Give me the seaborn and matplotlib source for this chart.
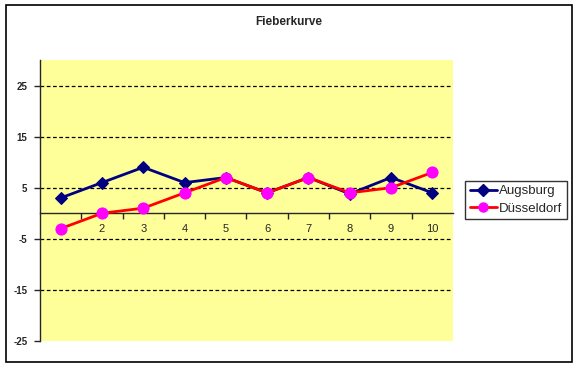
import numpy as np
import pandas as pd
import matplotlib
matplotlib.use('Agg')
import matplotlib.pyplot as plt
from matplotlib.patches import Rectangle
from matplotlib.lines import Line2D
import seaborn as sns

# data
days = [1, 2, 3, 4, 5, 6, 7, 8, 9, 10]
augsburg = [3, 6, 9, 6, 7, 4, 7, 3.8, 7, 4]
duesseldorf = [-3, 0, 1, 4, 7, 4, 7, 4, 5, 8]
y_ticks = [25, 15, 5, -5, -15, -25]

sns.set_style('white')
plt.rcParams['font.family'] = ['Liberation Sans', 'DejaVu Sans']

fig = plt.figure(figsize=(5.78, 3.66), dpi=100)
ax = fig.add_axes([40 / 578, 1 - 341 / 366, 413 / 578, 281 / 366])
ax.set_facecolor('#FFFF99')

# outer chart border
fig.patches.append(Rectangle((6 / 578, 1 - 362 / 366), 566 / 578, 357 / 366,
                             transform=fig.transFigure, fill=False,
                             edgecolor='black', linewidth=1.2))

df_a = pd.DataFrame({'day': days, 'value': augsburg})
df_d = pd.DataFrame({'day': days, 'value': duesseldorf})

sns.lineplot(data=df_a, x='day', y='value', ax=ax, color='#000080',
             marker='D', markersize=6.5, markeredgecolor='#000080',
             linewidth=2, zorder=3)
sns.lineplot(data=df_d, x='day', y='value', ax=ax, color='#FF0000',
             marker='o', markersize=8, markerfacecolor='#FF00FF',
             markeredgecolor='#FF00FF', linewidth=2, zorder=4)

ax.set_xlim(0.5, 10.5)
ax.set_ylim(-25, 30)
ax.set_xlabel('')
ax.set_ylabel('')

# dashed gridlines
for y in [25, 15, 5, -5, -15]:
    ax.axhline(y, color='black', linestyle=(0, (3, 2)), linewidth=0.9, zorder=1)

# spines: left axis and x axis at zero
for s in ['top', 'right']:
    ax.spines[s].set_visible(False)
ax.spines['bottom'].set_position(('data', 0))
ax.spines['bottom'].set_linewidth(1)
ax.spines['left'].set_linewidth(1)

ax.set_yticks(y_ticks)
ax.set_yticklabels([str(v) for v in y_ticks], fontsize=7, fontweight='bold')
ax.tick_params(axis='y', direction='out', length=4, width=1, pad=5, left=True)

ax.set_xticks([d + 0.5 for d in days[:-1]], minor=True)
ax.set_xticks(days)
ax.set_xticklabels([str(d) for d in days], fontsize=8)
ax.tick_params(axis='x', which='major', length=0, pad=8)
ax.tick_params(axis='x', which='minor', direction='out', length=4, width=1, bottom=True)

fig.text(289 / 578, 1 - 22 / 366, 'Fieberkurve', ha='center', va='center',
         fontsize=8.5, fontweight='bold')

handles = [
    Line2D([], [], color='#000080', marker='D', markersize=6, linewidth=2),
    Line2D([], [], color='#FF0000', marker='o', markersize=6.5,
           markerfacecolor='#FF00FF', markeredgecolor='#FF00FF', linewidth=2),
]
leg = fig.legend(handles, ['Augsburg', 'Düsseldorf'], loc='center left',
                 bbox_to_anchor=(465 / 578, 1 - 200 / 366), frameon=True,
                 fancybox=False, fontsize=9.5, handlelength=2.1, handletextpad=0.1,
                 borderpad=0.35, labelspacing=0.4, borderaxespad=0)
leg.get_frame().set_edgecolor('black')
leg.get_frame().set_linewidth(1)

fig.savefig('out.png', dpi=100)
